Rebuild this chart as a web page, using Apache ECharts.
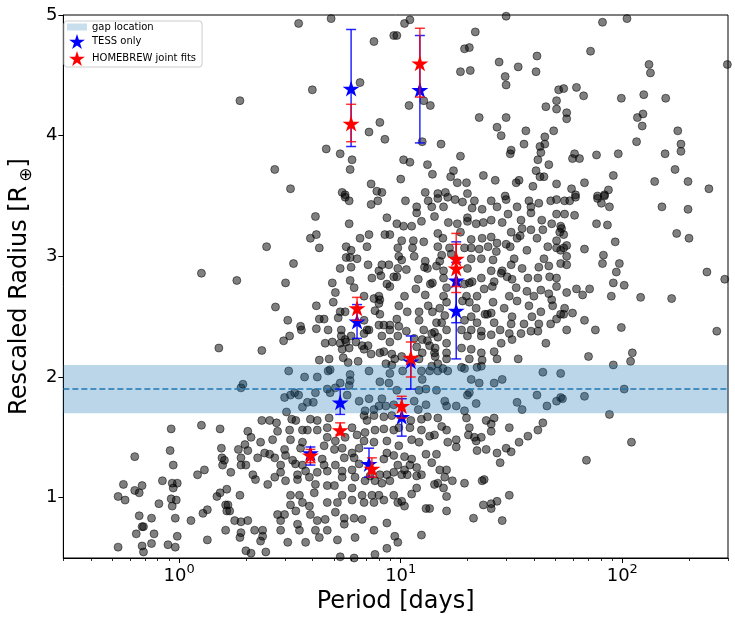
<!DOCTYPE html>
<html>
<head>
<meta charset="utf-8">
<script src="https://cdn.jsdelivr.net/npm/echarts@6/dist/echarts.min.js"></script>
<style>html,body{margin:0;padding:0;background:#fff}#c{width:735px;height:622px}</style>
</head>
<body>
<div id="c"></div>
<script>
// ---- data ----
const xMajorTicks = [1, 10, 100];
const xMinorTicks = [0.3,0.4,0.5,0.6,0.7,0.8,0.9,2,3,4,5,6,7,8,9,20,30,40,50,60,70,80,90,200,300];
const yTicks = [1, 2, 3, 4, 5];
const gapLow = 1.7, gapHigh = 2.1, gapCenter = 1.9;

const tessPeriod = [5.97, 12.2, 17.8, 17.8, 6.35, 11.1, 10.1, 5.33, 3.91, 7.19];
const tessRadius = [4.39, 4.38, 2.80, 2.55, 2.46, 2.13, 1.67, 1.79, 1.37, 1.28];
const tessLow    = [3.91, 3.94, 2.45, 2.15, 2.32, 1.90, 1.51, 1.69, 1.27, 1.17];
const tessHigh   = [4.88, 4.83, 3.12, 2.95, 2.60, 2.34, 1.82, 1.90, 1.42, 1.41];

const hbPeriod = [5.97, 12.2, 17.8, 17.8, 6.35, 11.1, 10.1, 5.33, 3.91, 7.41];
const hbRadius = [4.10, 4.60, 2.98, 2.90, 2.57, 2.16, 1.76, 1.56, 1.35, 1.24];
const hbLow    = [3.95, 4.32, 2.75, 2.70, 2.47, 2.00, 1.66, 1.52, 1.29, 1.17];
const hbHigh   = [4.26, 4.89, 3.19, 3.10, 2.66, 2.29, 1.84, 1.62, 1.40, 1.33];

// catalogue planets [period (days), rescaled radius]
const catalogPoints = [
[3.46,4.93],[4.85,4.97],[7.57,4.78],[9.3,4.83],[6.55,4.44],[3.99,4.38],[1.88,4.29],[8.05,4.11],[7.19,4.03],[8.48,3.97],[4.61,3.89],[5.33,3.85],[6.03,3.80],[2.70,3.72],[5.91,3.72],[3.18,3.56],[7.35,3.60],[7.8,3.54],[8.22,3.53],[5.44,3.53],[5.61,3.51],
[11.0,4.96],[10.4,4.93],[9.6,4.83],[29.9,4.99],[21.7,4.86],[19.4,4.72],[20.4,4.73],[27.8,4.61],[33.9,4.57],[41.2,4.66],[18.6,4.53],[20.6,4.54],[29.6,4.49],[29.9,4.42],[40.8,4.53],[51.6,4.38],[10.9,4.25],[12.7,4.29],[13.6,4.25],[45.2,4.24],[50.5,4.29],[50.5,4.22],[22.6,4.15],[29.9,4.15],[27.2,4.07],[28.4,4.00],[36.7,4.04],[49.0,4.04],[44.7,3.99],[36.0,3.93],[42.5,3.91],[44.7,3.93],[42.9,3.86],[12.5,3.95],[15.2,3.93],[10.3,3.80],[11.0,3.78],[31.5,3.88],[31.2,3.85],[18.6,3.83],[41.6,3.80],[46.6,3.76],[13.2,3.76],[17.3,3.71],[13.9,3.68],[40.8,3.71],[42.5,3.66],[44.3,3.66],[16.8,3.66],[10.0,3.64],[23.6,3.67],[26.7,3.63],[34.2,3.63],[33.2,3.61],[19.8,3.61],[18.0,3.61],[39.5,3.58],[50.5,3.60],[12.9,3.53],[14.7,3.52],[15.9,3.53],[20.0,3.52],[29.6,3.50],
[81.4,4.94],[105,4.97],[71.9,4.70],[132,4.59],[134,4.52],[298,4.59],[54.4,4.39],[62.1,4.40],[66.9,4.33],[99,4.31],[125,4.34],[157,4.31],[56.1,4.19],[56.1,4.14],[124,4.18],[117,4.15],[123,4.08],[178,4.04],[116,3.95],[184,3.93],[184,3.87],[60.9,3.85],[59.6,3.81],[64.1,3.81],[76.5,3.84],[95.9,3.85],[156,3.85],[173,3.72],[91.1,3.67],[140,3.62],[198,3.62],[246,3.56],[67.5,3.61],[59.0,3.56],[86.6,3.55],[61.5,3.51],[77.3,3.50],[83.1,3.51],
[1.26,2.86],[1.51,2.24],
[5.61,3.49],[5.85,3.46],[7.35,3.43],[7.88,3.46],[4.12,3.33],[8.66,3.32],[5.85,3.27],[4.16,3.18],[3.91,3.15],[2.48,3.08],[4.29,3.07],[6.55,3.15],[7.19,3.18],[8.48,3.18],[8.93,3.18],[5.67,3.08],[7.04,3.08],[5.97,3.05],[5.67,2.99],[5.91,2.99],[6.35,2.98],[3.28,2.94],[5.33,2.90],[5.97,2.91],[7.12,2.93],[8.22,2.93],[8.84,2.93],[7.97,2.88],[8.14,2.84],[9.30,2.83],[1.82,2.80],[3.02,2.78],[4.91,2.78],[5.91,2.80],[7.41,2.82],[8.66,2.77],[8.93,2.75],[6.16,2.74],[5.07,2.70],[6.83,2.67],[7.97,2.67],[8.05,2.64],[7.57,2.65],[4.96,2.62],[7.97,2.61],[2.72,2.58],[4.16,2.59],[5.33,2.54],[5.61,2.54],[7.65,2.55],[8.05,2.52],[3.09,2.47],[4.29,2.48],[4.51,2.48],[5.22,2.49],[6.83,2.47],[7.97,2.43],[8.39,2.43],[8.93,2.43],[3.53,2.42],[3.56,2.39],[4.16,2.40],[4.70,2.39],[5.39,2.39],[7.04,2.39],[8.93,2.39],[3.15,2.34],[2.96,2.30],[5.39,2.34],[5.61,2.31],[5.97,2.34],[6.83,2.36],[7.19,2.39],[8.22,2.34],[4.91,2.29],[4.56,2.28],[5.33,2.28],[5.67,2.29],[6.28,2.29],[6.69,2.26],[7.12,2.26],[8.93,2.29],[2.36,2.22],[5.44,2.23],[5.85,2.24],[6.83,2.23],[7.35,2.19],[8.05,2.20],[8.39,2.21],[9.11,2.19],[5.50,2.16],[4.29,2.14],[4.75,2.15],[5.79,2.12],[6.42,2.13],[8.57,2.11],[9.11,2.10],[3.12,2.05],[3.68,2.00],[4.20,2.00],[4.70,2.05],[4.80,2.06],[5.91,2.02],[7.19,2.05],[8.93,2.03],
[10.5,3.46],[13.3,3.46],[14.7,3.48],[16.3,3.49],[17.6,3.47],[19.0,3.45],[21.5,3.46],[25.6,3.46],[29.9,3.47],[37.9,3.46],[47.5,3.46],[50.5,3.47],[11.8,3.41],[13.8,3.41],[15.6,3.41],[21.0,3.40],[23.3,3.39],[27.2,3.41],[33.5,3.41],[38.7,3.41],[42.0,3.44],[11.8,3.36],[14.2,3.33],[20.0,3.32],[30.5,3.35],[38.7,3.36],[50.5,3.35],
[9.6,3.27],[10.3,3.25],[11.2,3.25],[12.4,3.29],[16.4,3.28],[18.0,3.27],[20.0,3.29],[21.9,3.27],[23.6,3.28],[25.6,3.30],[28.7,3.28],[34.9,3.30],[43.3,3.30],[48.0,3.27],[52.7,3.25],[31.5,3.20],[35.3,3.23],[38.7,3.22],[43.8,3.22],[52.2,3.20],[14.7,3.19],[18.6,3.20],
[10.1,3.13],[11.4,3.13],[12.7,3.12],[15.5,3.15],[20.8,3.14],[23.3,3.15],[25.6,3.16],[27.2,3.11],[29.9,3.10],[33.5,3.15],[34.6,3.17],[41.2,3.15],[50.5,3.13],[9.7,3.07],[11.3,3.07],[14.7,3.08],[16.6,3.07],[19.4,3.07],[20.8,3.07],[22.6,3.06],[24.8,3.08],[27.0,3.04],[31.2,3.08],[37.1,3.05],[46.1,3.08],[50.5,3.07],[52.7,3.05],
[9.8,3.00],[10.1,2.97],[11.5,3.00],[12.9,2.96],[15.3,3.01],[16.9,3.02],[12.8,2.91],[13.2,2.90],[15.0,2.96],[20.8,2.98],[23.1,2.98],[26.1,2.97],[32.5,2.98],[31.5,2.93],[44.3,2.98],[42.0,2.91],[52.7,2.94],[9.7,2.90],[10.6,2.89],[14.5,2.92],[15.6,2.88],[20.0,2.90],[25.6,2.88],[28.7,2.88],[35.3,2.90],[46.6,2.92],
[9.6,2.83],[12.0,2.81],[13.9,2.78],[15.6,2.82],[20.4,2.78],[21.0,2.79],[23.1,2.82],[28.4,2.86],[30.2,2.83],[26.4,2.79],[31.8,2.81],[37.5,2.82],[41.6,2.82],[47.0,2.83],[50.5,2.82],[11.7,2.73],[13.6,2.77],[16.1,2.74],[19.4,2.77],[23.8,2.73],[25.9,2.75],[33.2,2.74],[37.1,2.71],[42.9,2.72],[46.6,2.69],[50.5,2.75],[10.4,2.67],[12.9,2.68],[15.6,2.67],[19.8,2.67],[22.1,2.67],[30.9,2.67],[39.9,2.67],[48.0,2.64],
[9.8,2.59],[13.3,2.59],[15.0,2.57],[16.1,2.62],[19.0,2.63],[20.4,2.62],[21.9,2.57],[26.1,2.62],[29.3,2.57],[33.5,2.63],[37.9,2.59],[42.9,2.54],[48.5,2.59],[52.7,2.52],[10.7,2.54],[12.1,2.54],[13.9,2.54],[24.0,2.52],[24.6,2.52],[25.6,2.53],[15.8,2.51],[20.8,2.50],[31.8,2.50],[39.1,2.50],[47.5,2.44],[9.6,2.48],[12.1,2.47],[14.5,2.45],[15.3,2.45],[19.4,2.47],[22.1,2.45],[26.4,2.45],[31.5,2.44],[36.0,2.44],[42.0,2.44],[50.5,2.48],
[9.8,2.42],[10.6,2.38],[12.7,2.39],[13.8,2.36],[14.2,2.37],[16.1,2.39],[18.8,2.39],[20.8,2.39],[23.1,2.38],[25.6,2.35],[28.1,2.39],[30.9,2.36],[34.9,2.36],[38.7,2.38],[41.6,2.38],[9.7,2.34],[11.5,2.32],[12.5,2.31],[13.2,2.30],[14.7,2.33],[20.0,2.34],[23.1,2.34],[28.4,2.28],[31.8,2.31],[45.2,2.28],[11.8,2.25],[13.5,2.26],[14.3,2.24],[16.1,2.28],[18.8,2.24],[20.8,2.23],[23.1,2.20],[26.4,2.21],[12.5,2.20],[14.2,2.20],[16.1,2.20],
[9.4,2.15],[10.1,2.17],[12.1,2.15],[14.3,2.17],[14.7,2.11],[16.1,2.15],[20.4,2.15],[23.3,2.14],[27.2,2.15],[33.9,2.15],[13.8,2.09],[15.5,2.07],[18.8,2.08],[22.1,2.08],[10.2,2.05],[12.4,2.05],[13.5,2.05],[14.7,2.05],[16.3,2.05],[19.4,2.07],[23.1,2.09],[43.8,2.04],[52.7,2.03],
[54.9,3.46],[57.9,3.46],[61.5,3.49],[77.3,3.48],[83.1,3.50],[80.5,3.44],[87.5,3.41],[151,3.41],[198,3.39],[54.9,3.35],[60.9,3.34],[76.5,3.27],[85.7,3.26],[53.2,3.23],[54.4,3.18],[176,3.19],[200,3.15],[92.9,3.12],[56.1,3.09],[54.4,3.07],[67.5,3.06],[56.1,3.00],[82.2,3.01],[56.1,2.93],[81.4,2.94],[97.0,2.94],[94.0,2.87],[241,2.87],[290,2.81],[91.1,2.78],[102,2.76],[56.1,2.70],[62.1,2.73],[71.2,2.73],[66.2,2.68],[89.2,2.67],[121,2.66],[167,2.65],[54.9,2.57],[54.4,2.52],[59.6,2.53],[67.5,2.47],[56.1,2.39],[75.6,2.39],[99,2.41],[267,2.38],[70.4,2.17],[111,2.20],[109,2.13],[91.1,2.10],
[0.92,1.57],[1.26,1.60],[1.53,1.57],[0.91,1.39],[1.55,1.41],[0.63,1.34],[0.94,1.27],[1.56,1.33],[1.57,1.27],[1.60,1.31],[1.30,1.23],[1.21,1.19],[0.56,1.11],[0.68,1.10],[0.84,1.14],[0.93,1.12],[0.98,1.12],[0.94,1.08],[0.63,1.06],[0.66,1.04],[0.53,1.01],[0.57,0.98],[1.64,1.07],[1.53,1.04],[1.48,1.01],[0.92,0.99],[0.97,0.98],[0.81,0.95],[0.93,0.93],[1.62,0.94],[1.64,0.89],[1.34,0.90],[1.28,0.87],[0.66,0.85],[0.75,0.83],[0.96,0.83],[1.13,0.81],[0.68,0.76],[0.69,0.76],[0.64,0.70],[0.77,0.70],[0.98,0.68],[1.62,0.73],[1.34,0.65],[0.53,0.59],[0.68,0.60],[0.75,0.62],[0.89,0.61],[0.96,0.59],[0.69,0.55],
[1.94,1.94],[1.90,1.91],[4.66,1.90],[4.12,1.87],[2.99,1.83],[3.18,1.85],[3.46,1.85],[3.32,1.87],[3.79,1.79],[4.03,1.79],[3.60,1.75],[3.05,1.71],[5.33,1.95],[4.80,1.87],[5.91,1.97],[5.85,1.93],[5.73,1.85],[6.49,1.80],[7.19,1.82],[8.05,1.96],[8.84,1.95],[8.22,1.82],[6.90,1.72],[7.57,1.73],[7.97,1.76],[8.57,1.76],[9.30,1.77],[5.07,1.91],
[2.36,1.64],[2.56,1.64],[2.75,1.62],[3.22,1.65],[3.36,1.64],[3.91,1.65],[4.20,1.64],[4.75,1.66],[6.83,1.68],[7.04,1.64],[7.57,1.68],[8.39,1.67],[9.11,1.68],[2.04,1.55],[2.78,1.55],[3.15,1.56],[3.60,1.56],[3.79,1.56],[4.20,1.56],[4.66,1.58],[6.03,1.58],[6.35,1.52],[6.90,1.54],[7.65,1.56],[8.39,1.57],[9.30,1.56],
[2.11,1.50],[1.98,1.44],[2.33,1.46],[2.64,1.48],[3.18,1.48],[3.60,1.46],[4.66,1.50],[5.07,1.47],[5.61,1.50],[6.83,1.47],[7.57,1.46],[8.66,1.47],[1.85,1.40],[2.04,1.39],[2.43,1.37],[2.56,1.36],[2.99,1.40],[3.53,1.41],[4.51,1.43],[5.02,1.40],[5.44,1.41],[6.03,1.37],[6.49,1.41],[8.66,1.37],
[1.90,1.33],[2.26,1.33],[2.70,1.33],[3.02,1.35],[3.25,1.31],[4.42,1.32],[5.56,1.33],[6.16,1.33],[8.39,1.32],[9.30,1.35],[1.90,1.27],[2.00,1.27],[2.87,1.27],[3.35,1.28],[3.60,1.27],[4.51,1.27],[5.07,1.27],[6.49,1.28],
[1.71,1.21],[2.15,1.19],[2.87,1.21],[3.42,1.19],[3.72,1.22],[4.20,1.21],[4.66,1.22],[5.44,1.22],[6.03,1.23],[6.22,1.17],[7.27,1.18],[8.05,1.19],[8.66,1.19],[9.30,1.21],[2.21,1.15],[2.51,1.11],[2.70,1.17],[3.02,1.14],[3.42,1.15],[3.87,1.17],[4.12,1.11],[4.66,1.10],[5.02,1.10],[5.44,1.17],[6.03,1.08],[6.90,1.14],[7.65,1.14],[8.22,1.12],[8.93,1.14],
[1.88,1.02],[3.18,1.02],[3.49,1.02],[4.07,1.04],[5.44,1.02],[6.69,1.02],[7.41,1.02],[7.97,1.02],[8.39,0.98],[9.30,1.02],[1.66,0.94],[3.18,0.94],[3.60,0.96],[3.87,0.93],[4.66,0.96],[5.18,0.96],[6.03,0.98],[6.83,0.96],[7.57,0.96],
[1.69,0.89],[2.78,0.86],[2.99,0.86],[3.36,0.89],[3.91,0.86],[5.07,0.88],[5.56,0.83],[6.16,0.83],[6.69,0.82],[8.66,0.79],[1.78,0.81],[1.90,0.80],[2.04,0.81],[2.87,0.81],[3.42,0.78],[4.20,0.81],[4.56,0.82],[5.56,0.78],
[2.19,0.73],[2.38,0.73],[2.87,0.73],[3.49,0.73],[4.12,0.73],[4.66,0.73],[1.90,0.71],[7.57,0.73],[2.38,0.68],[1.88,0.67],[2.33,0.64],[3.09,0.63],[3.72,0.63],[4.29,0.67],[5.18,0.65],[6.22,0.67],[2.00,0.56],[2.11,0.54],[2.46,0.55],[5.33,0.51],[6.16,0.50],[7.65,0.53],[8.66,0.58],
[12.5,1.98],[12.1,1.89],[13.0,1.90],[14.5,1.89],[9.6,1.89],[11.5,1.80],[12.0,1.73],[13.0,1.77],[15.8,1.80],[16.1,1.76],[17.8,1.76],[19.4,1.72],[20.4,1.87],[20.0,1.85],[21.9,1.78],[20.8,1.98],[22.6,1.95],[26.4,1.95],[28.7,1.98],[33.5,1.79],[35.3,1.73],[41.2,1.85],[45.7,1.76],[50.5,1.80],[52.7,1.83],
[12.4,1.65],[13.2,1.67],[14.7,1.66],[11.1,1.64],[9.8,1.58],[11.0,1.58],[12.4,1.56],[15.3,1.59],[16.1,1.56],[19.8,1.66],[20.4,1.58],[24.3,1.64],[25.6,1.61],[26.4,1.66],[30.9,1.58],[20.2,1.52],[21.5,1.50],[23.1,1.50],[25.6,1.55],
[9.8,1.43],[11.2,1.48],[12.1,1.46],[13.5,1.51],[14.2,1.52],[16.3,1.46],[17.8,1.48],[17.8,1.42],[21.9,1.47],[22.1,1.39],[24.3,1.40],[27.2,1.37],[29.9,1.41],[31.5,1.38],[34.2,1.46],[37.5,1.51],[41.6,1.56],[43.8,1.62],
[10.4,1.34],[11.2,1.32],[13.0,1.36],[13.8,1.29],[14.5,1.36],[10.4,1.23],[9.7,1.27],[11.0,1.27],[11.8,1.25],[10.1,1.19],[10.7,1.19],[11.8,1.18],[12.4,1.19],[15.0,1.23],[16.1,1.23],[15.8,1.17],[17.1,1.14],[19.4,1.12],[23.3,1.14],[23.8,1.15],[28.1,1.29],
[14.2,1.11],[14.7,1.12],[15.6,1.08],[11.8,1.08],[11.2,1.03],[16.1,1.01],[30.9,1.02],[10.1,0.97],[10.4,0.93],[9.7,0.96],[13.0,0.91],[13.5,0.91],[16.1,0.89],[23.6,0.94],[25.6,0.95],[25.6,0.91],[27.2,0.97],[21.3,0.83],[28.7,0.81],[12.4,0.69],[9.4,0.68],[9.7,0.63],
[53.7,1.82],[67.5,1.84],[102,1.90],[87.5,1.69],[110,1.46],[68.9,1.31]
];

// ---- chart ----
const FONT = 'DejaVu Sans';
const starPath = 'path://M0,-10 L2.245,-3.09 L9.51,-3.09 L3.633,1.18 L5.88,8.09 L0,3.82 L-5.88,8.09 L-3.633,1.18 L-9.51,-3.09 L-2.245,-3.09 Z';
const bandColor = 'rgba(31,119,180,0.3)';

function zip(a, b) { return a.map((v, i) => [v, b[i]]); }
function zip3(a, b, c) { return a.map((v, i) => [v, b[i], c[i]]); }

function errRender(color) {
  return function (params, api) {
    const x = api.value(0), lo = api.value(1), hi = api.value(2);
    const p1 = api.coord([x, lo]), p2 = api.coord([x, hi]);
    const cw = 5;
    const st = { stroke: color, lineWidth: 1.5 };
    return {
      type: 'group',
      children: [
        { type: 'line', shape: { x1: p1[0], y1: p1[1], x2: p2[0], y2: p2[1] }, style: st },
        { type: 'line', shape: { x1: p1[0] - cw, y1: p1[1], x2: p1[0] + cw, y2: p1[1] }, style: st },
        { type: 'line', shape: { x1: p2[0] - cw, y1: p2[1], x2: p2[0] + cw, y2: p2[1] }, style: st }
      ]
    };
  };
}

const chart = echarts.init(document.getElementById('c'), null, { renderer: 'canvas' });
chart.setOption({
  animation: false,
  backgroundColor: '#fff',
  textStyle: { fontFamily: FONT },
  grid: { left: 57, right: 7, top: 15, bottom: 64, show: true, borderColor: '#000', borderWidth: 1, backgroundColor: 'transparent' },
  legend: {
    orient: 'vertical', left: 64, top: 21,
    itemWidth: 20, itemHeight: 15, itemGap: 2,
    padding: [1, 6, 1, 3],
    borderColor: '#ccc', borderWidth: 1, borderRadius: 3, backgroundColor: 'rgba(255,255,255,0.8)',
    textStyle: { fontSize: 10, fontFamily: FONT, color: '#000' },
    selectedMode: false,
    data: [
      { name: 'gap location', icon: 'path://M0,0 L20,0 L20,7 L0,7 Z', itemStyle: { color: bandColor } },
      { name: 'TESS only', icon: starPath },
      { name: 'HOMEBREW joint fits', icon: starPath }
    ]
  },
  xAxis: [{
    type: 'log', logBase: 10, min: 0.3, max: 300,
    name: 'Period [days]', nameLocation: 'middle', nameGap: 29,
    nameTextStyle: { fontSize: 24, fontFamily: FONT, color: '#000' },
    axisLine: { show: true, lineStyle: { color: '#000', width: 1 } },
    axisTick: { show: true, length: 5, customValues: xMajorTicks, lineStyle: { color: '#000' } },
    axisLabel: {
      customValues: xMajorTicks, margin: 5, color: '#000',
      formatter: function (v) { return '{b|10}{s|' + Math.round(Math.log10(v)) + '}'; },
      rich: {
        b: { fontSize: 18, fontFamily: FONT, color: '#000', lineHeight: 26 },
        s: { fontSize: 13, fontFamily: FONT, color: '#000', lineHeight: 14, verticalAlign: 'top' }
      }
    },
    splitLine: { show: false }, minorTick: { show: false }
  }, {
    type: 'log', logBase: 10, min: 0.3, max: 300, position: 'bottom', gridIndex: 0,
    axisLine: { show: false },
    axisTick: { show: true, length: 3, customValues: xMinorTicks, lineStyle: { color: '#000', width: 0.8 } },
    axisLabel: { show: false }, splitLine: { show: false }
  }],
  yAxis: {
    type: 'value', min: 0.5, max: 5,
    name: '{a|Rescaled Radius [R}{b|⊕}{a|]}', nameLocation: 'middle', nameGap: 16, nameRotate: 90,
    nameTextStyle: {
      color: '#000',
      rich: {
        a: { fontSize: 24, fontFamily: FONT, color: '#000', lineHeight: 30 },
        b: { fontSize: 17, fontFamily: FONT, color: '#000', lineHeight: 20, verticalAlign: 'bottom', padding: [0, 0, 0, 4] }
      }
    },
    axisLine: { show: true, lineStyle: { color: '#000', width: 1 } },
    axisTick: { show: true, length: 5, customValues: yTicks, lineStyle: { color: '#000' } },
    axisLabel: { customValues: yTicks, fontSize: 18, fontFamily: FONT, color: '#000', margin: 6 },
    splitLine: { show: false }
  },
  series: [
    {
      name: 'catalog', type: 'scatter', z: 1, data: catalogPoints, symbolSize: 8,
      itemStyle: { color: 'rgba(0,0,0,0.5)', borderColor: 'rgba(0,0,0,0.5)', borderWidth: 1, opacity: 1 },
      emphasis: { disabled: true }, silent: true
    },
    {
      name: 'gap location', type: 'scatter', z: 3, data: [], symbolKeepAspect: true,
      itemStyle: { color: bandColor },
      markArea: { silent: true, z: 3, itemStyle: { color: bandColor }, data: [[{ yAxis: gapLow }, { yAxis: gapHigh }]] },
      markLine: { silent: true, z: 3, symbol: 'none', label: { show: false },
        lineStyle: { color: '#1f77b4', type: [6, 3], width: 1.5 }, data: [{ yAxis: gapCenter }] }
    },
    {
      name: 'TESS err', type: 'custom', z: 4, renderItem: errRender('rgba(0,0,255,0.85)'),
      encode: { x: 0, y: [1, 2] }, data: zip3(tessPeriod, tessLow, tessHigh), silent: true
    },
    {
      name: 'TESS only', type: 'scatter', z: 5, data: zip(tessPeriod, tessRadius),
      symbol: starPath, symbolSize: [17, 16], itemStyle: { color: '#0000ff', opacity: 1 }, silent: true
    },
    {
      name: 'HB err', type: 'custom', z: 6, renderItem: errRender('rgba(255,0,0,0.8)'),
      encode: { x: 0, y: [1, 2] }, data: zip3(hbPeriod, hbLow, hbHigh), silent: true
    },
    {
      name: 'HOMEBREW joint fits', type: 'scatter', z: 7, data: zip(hbPeriod, hbRadius),
      symbol: starPath, symbolSize: [17, 16], itemStyle: { color: '#ff0000', opacity: 1 }, silent: true
    }
  ]
});
</script>
</body>
</html>
